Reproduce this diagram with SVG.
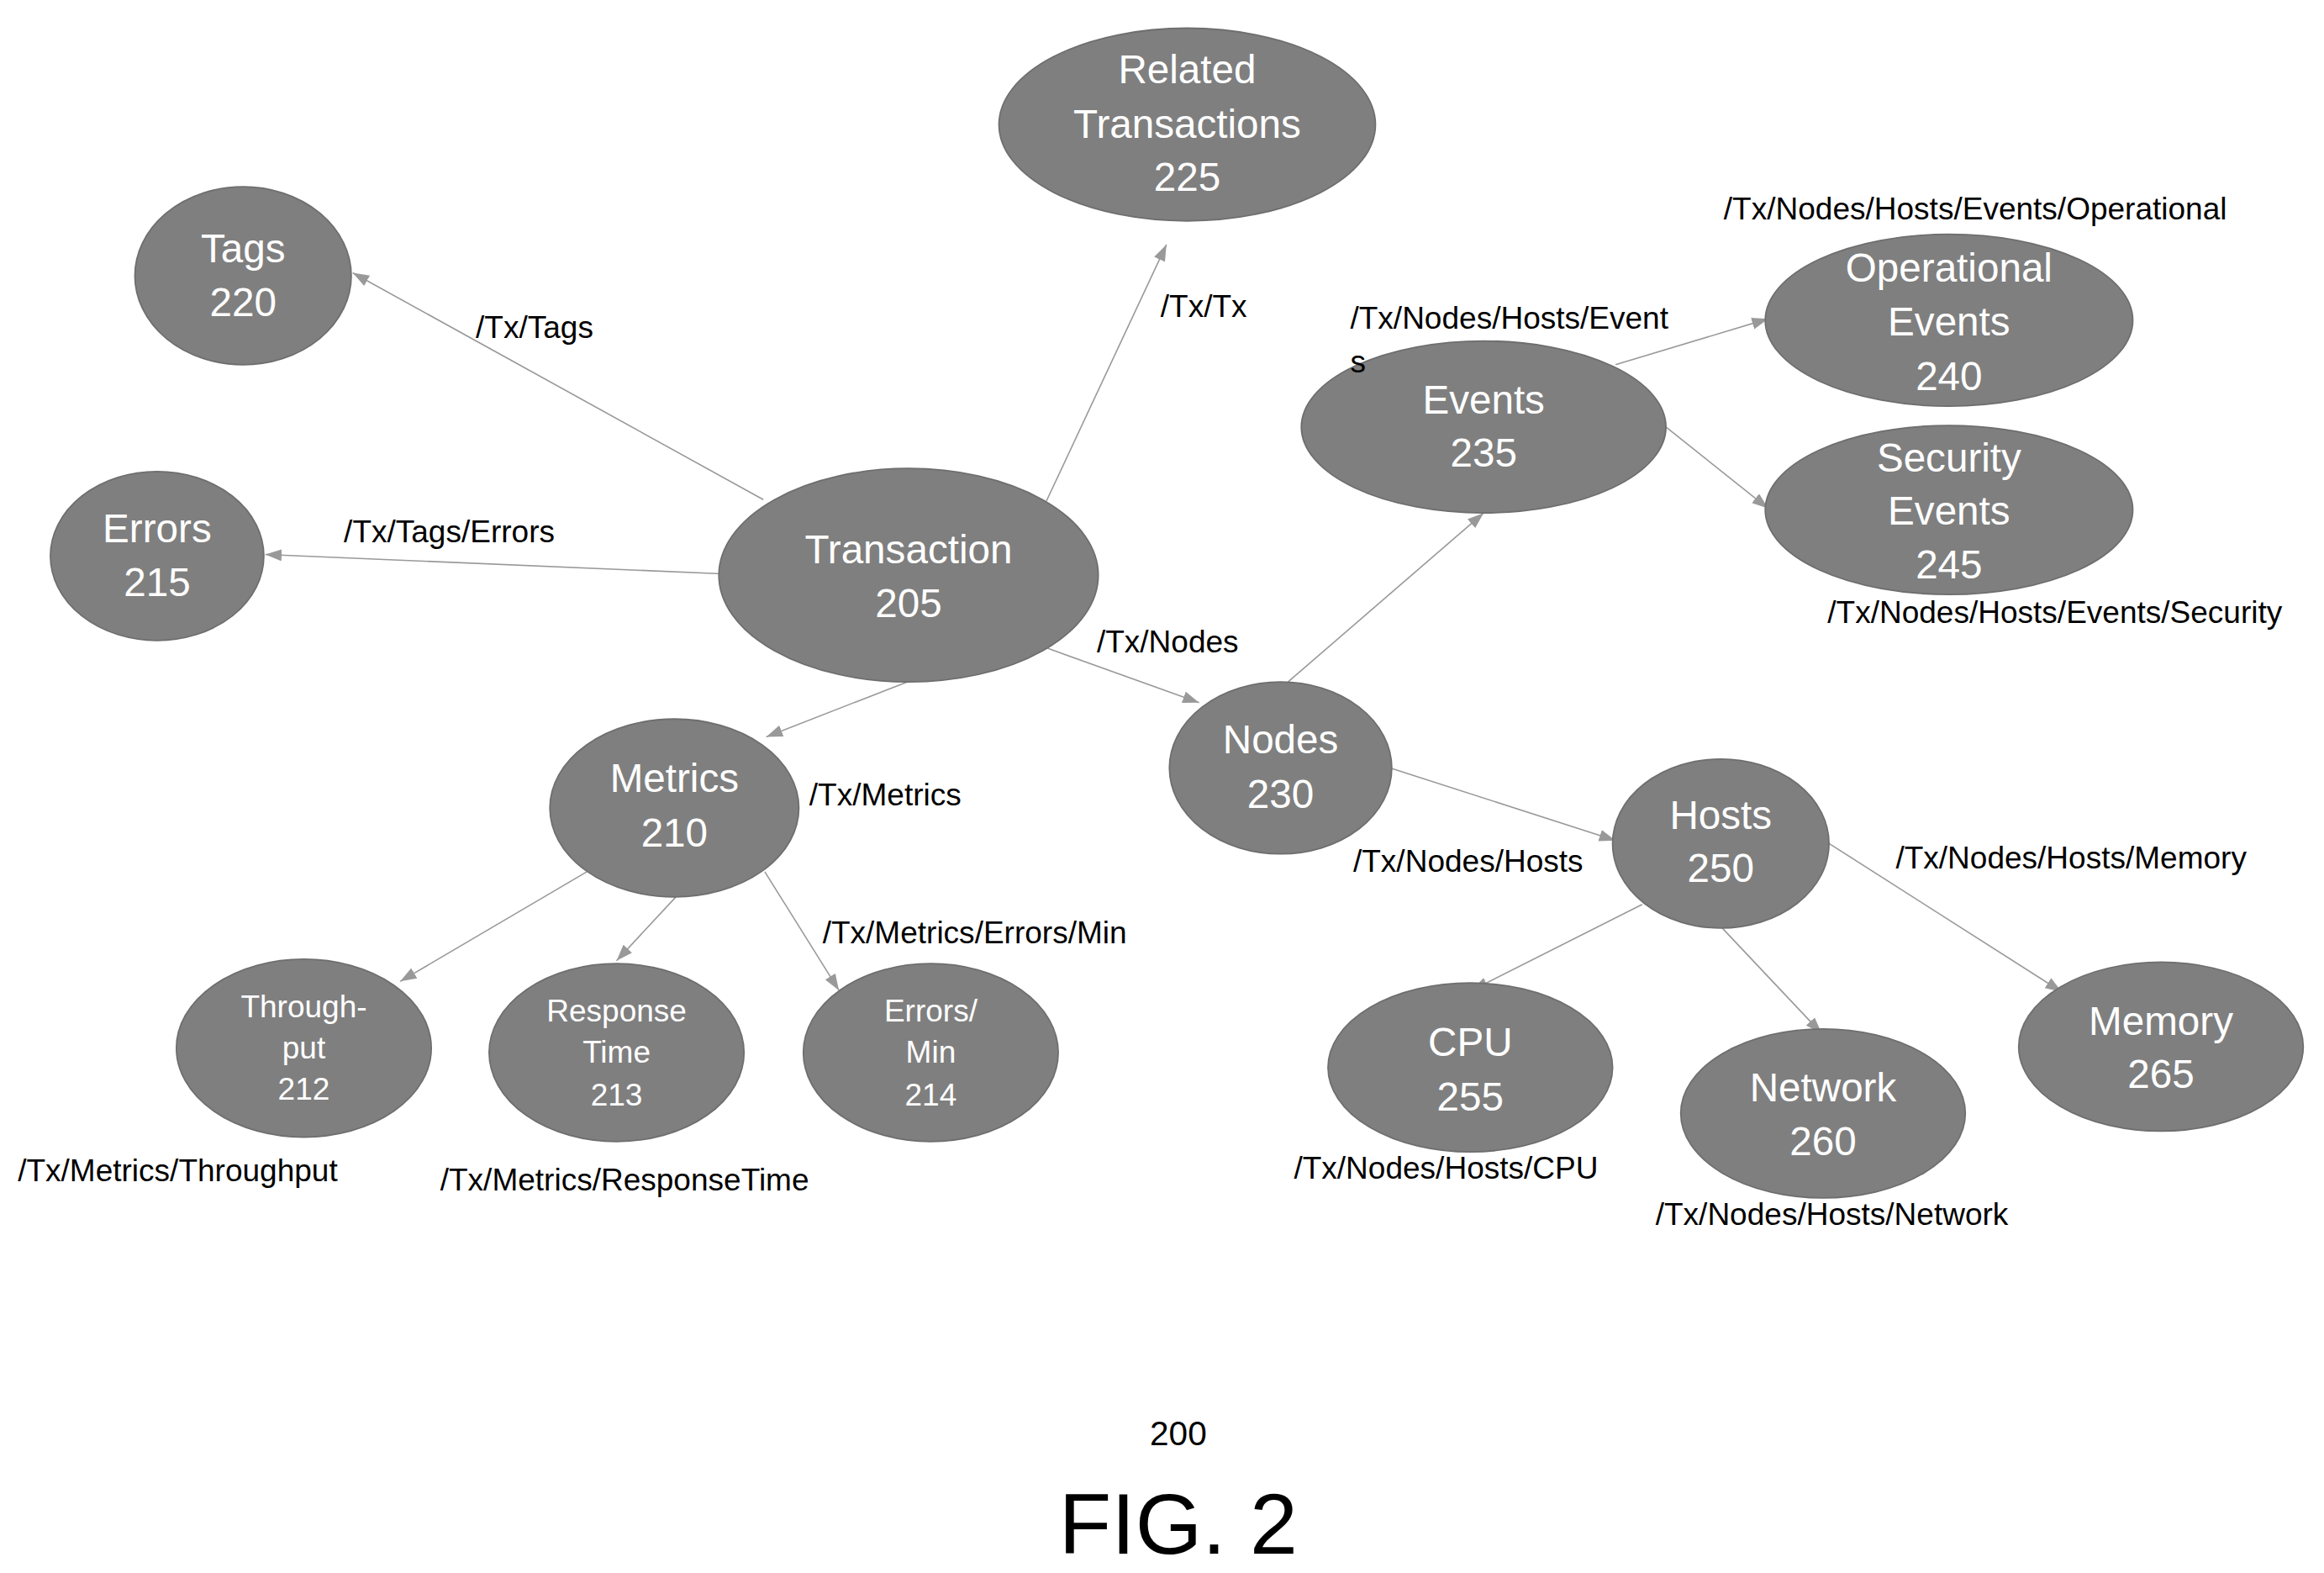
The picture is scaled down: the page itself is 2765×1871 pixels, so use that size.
<svg xmlns="http://www.w3.org/2000/svg" width="2765" height="1871" viewBox="0 0 2765 1871">
<style>
.n{fill:#7f7f7f;stroke:#6e6e6e;stroke-width:1}
.t{fill:#fff;font-family:"Liberation Sans Narrow","Liberation Sans",sans-serif;font-size:27px;text-anchor:middle}
.s{fill:#fff;font-family:"Liberation Sans Narrow","Liberation Sans",sans-serif;font-size:21px;text-anchor:middle}
.l{fill:#000;font-family:"Liberation Sans Narrow","Liberation Sans",sans-serif;font-size:21px}
.e{stroke:#999;stroke-width:0.9;fill:none;marker-end:url(#a)}
</style>
<defs>
<marker id="a" markerUnits="userSpaceOnUse" markerWidth="12" markerHeight="10" refX="11" refY="4" orient="auto"><path d="M0,0 L11,4 L0,8 Z" fill="#999"/></marker>
</defs>
<rect width="2765" height="1871" fill="#fff"/>
<g transform="scale(1.7634)">
<g id="connectors">
<line class="e" x1="515" y1="337" x2="238" y2="184"/>
<line class="e" x1="487" y1="387" x2="179" y2="374"/>
<line class="e" x1="706" y1="338" x2="787" y2="165"/>
<line class="e" x1="612" y1="460" x2="517" y2="497"/>
<line class="e" x1="706" y1="437" x2="809" y2="474"/>
<line class="e" x1="869" y1="460" x2="1001" y2="346"/>
<line class="e" x1="1090" y1="246" x2="1193" y2="215"/>
<line class="e" x1="1124" y1="288" x2="1193" y2="343"/>
<line class="e" x1="938" y1="518" x2="1090" y2="567"/>
<line class="e" x1="396" y1="588" x2="270" y2="662"/>
<line class="e" x1="456" y1="605" x2="416" y2="648"/>
<line class="e" x1="516" y1="588" x2="566" y2="668"/>
<line class="e" x1="1108" y1="610" x2="993" y2="668"/>
<line class="e" x1="1162" y1="626" x2="1229" y2="697"/>
<line class="e" x1="1231" y1="567" x2="1391" y2="669"/>
</g>
<g id="n225"><ellipse class="n" cx="801" cy="84" rx="127" ry="65"/><text class="t" x="801" y="56">Related</text><text class="t" x="801" y="93">Transactions</text><text class="t" x="801" y="129">225</text></g>
<g id="n220"><ellipse class="n" cx="164" cy="186" rx="73" ry="60"/><text class="t" x="164" y="177">Tags</text><text class="t" x="164" y="213">220</text></g>
<g id="n215"><ellipse class="n" cx="106" cy="375" rx="72" ry="57"/><text class="t" x="106" y="366">Errors</text><text class="t" x="106" y="402">215</text></g>
<g id="n205"><ellipse class="n" cx="613" cy="388" rx="128" ry="72"/><text class="t" x="613" y="380">Transaction</text><text class="t" x="613" y="416">205</text></g>
<g id="n235"><ellipse class="n" cx="1001" cy="288" rx="123" ry="58"/><text class="t" x="1001" y="279">Events</text><text class="t" x="1001" y="315">235</text></g>
<g id="n240"><ellipse class="n" cx="1315" cy="216" rx="124" ry="58"/><text class="t" x="1315" y="190">Operational</text><text class="t" x="1315" y="226">Events</text><text class="t" x="1315" y="263">240</text></g>
<g id="n245"><ellipse class="n" cx="1315" cy="344" rx="124" ry="57"/><text class="t" x="1315" y="318">Security</text><text class="t" x="1315" y="354">Events</text><text class="t" x="1315" y="390">245</text></g>
<g id="n230"><ellipse class="n" cx="864" cy="518" rx="75" ry="58"/><text class="t" x="864" y="508">Nodes</text><text class="t" x="864" y="545">230</text></g>
<g id="n210"><ellipse class="n" cx="455" cy="545" rx="84" ry="60"/><text class="t" x="455" y="534">Metrics</text><text class="t" x="455" y="571">210</text></g>
<g id="n250"><ellipse class="n" cx="1161" cy="569" rx="73" ry="57"/><text class="t" x="1161" y="559">Hosts</text><text class="t" x="1161" y="595">250</text></g>
<g id="n212"><ellipse class="n" cx="205" cy="707" rx="86" ry="60"/><text class="s" x="205" y="686">Through-</text><text class="s" x="205" y="714">put</text><text class="s" x="205" y="742">212</text></g>
<g id="n213"><ellipse class="n" cx="416" cy="710" rx="86" ry="60"/><text class="s" x="416" y="689">Response</text><text class="s" x="416" y="717">Time</text><text class="s" x="416" y="746">213</text></g>
<g id="n214"><ellipse class="n" cx="628" cy="710" rx="86" ry="60"/><text class="s" x="628" y="689">Errors/</text><text class="s" x="628" y="717">Min</text><text class="s" x="628" y="746">214</text></g>
<g id="n255"><ellipse class="n" cx="992" cy="720" rx="96" ry="57"/><text class="t" x="992" y="712">CPU</text><text class="t" x="992" y="749">255</text></g>
<g id="n260"><ellipse class="n" cx="1230" cy="751" rx="96" ry="57"/><text class="t" x="1230" y="743">Network</text><text class="t" x="1230" y="779">260</text></g>
<g id="n265"><ellipse class="n" cx="1458" cy="706" rx="96" ry="57"/><text class="t" x="1458" y="698">Memory</text><text class="t" x="1458" y="734">265</text></g>
<g id="labels">
<text class="l" x="321" y="228">/Tx/Tags</text>
<text class="l" x="783" y="214">/Tx/Tx</text>
<text class="l" x="232" y="366">/Tx/Tags/Errors</text>
<text class="l" x="1163" y="148">/Tx/Nodes/Hosts/Events/Operational</text>
<text class="l" x="911" y="222">/Tx/Nodes/Hosts/Event</text>
<text class="l" x="911" y="251">s</text>
<text class="l" x="1233" y="420">/Tx/Nodes/Hosts/Events/Security</text>
<text class="l" x="740" y="440">/Tx/Nodes</text>
<text class="l" x="546" y="543">/Tx/Metrics</text>
<text class="l" x="913" y="588">/Tx/Nodes/Hosts</text>
<text class="l" x="1279" y="586">/Tx/Nodes/Hosts/Memory</text>
<text class="l" x="555" y="636">/Tx/Metrics/Errors/Min</text>
<text class="l" x="12" y="797">/Tx/Metrics/Throughput</text>
<text class="l" x="297" y="803">/Tx/Metrics/ResponseTime</text>
<text class="l" x="873" y="795">/Tx/Nodes/Hosts/CPU</text>
<text class="l" x="1117" y="826">/Tx/Nodes/Hosts/Network</text>
<text x="795" y="975" font-family="Liberation Sans, sans-serif" font-size="23" text-anchor="middle">200</text>
<text x="795" y="1048" font-family="Liberation Sans, sans-serif" font-size="58" text-anchor="middle">FIG. 2</text>
</g>
</g>
</svg>
